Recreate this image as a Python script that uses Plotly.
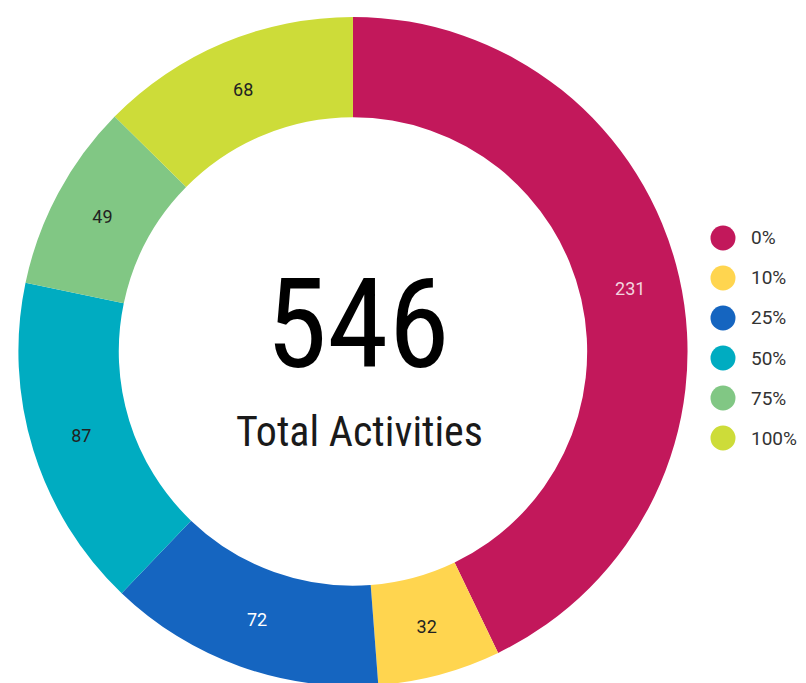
import plotly.graph_objects as go

# --- DATA ---
labels = ["0%", "10%", "25%", "50%", "75%", "100%"]
values = [231, 32, 72, 87, 49, 68]
colors = ["#C2185B", "#FFD54F", "#1565C0", "#00ACC1", "#81C784", "#CDDC39"]
text_colors = ["#F3D3DF", "#222222", "#FFFFFF", "#222222", "#222222", "#222222"]
total_label = "546"
sub_label = "Total Activities"

W, H = 806, 683
COND = "Roboto Condensed, Liberation Sans Narrow, DejaVu Sans Condensed, Roboto"
REG = "Roboto, Noto Sans, sans-serif"


def main():
    fig = go.Figure()

    fig.add_trace(go.Pie(
        labels=labels,
        values=values,
        hole=0.70,
        sort=False,
        direction="clockwise",
        rotation=0,
        marker=dict(colors=colors, line=dict(width=0)),
        textinfo="value",
        textposition="inside",
        insidetextorientation="horizontal",
        textfont=dict(size=18, color=text_colors, family=REG),
        domain=dict(x=[0.010, 0.846], y=[0.0073, 0.987]),
        showlegend=False,
    ))

    # centre text
    fig.add_annotation(text=total_label, x=350 / W, y=1 - 316 / H, xref="paper", yref="paper",
                       showarrow=False, font=dict(size=124, color="#000000", family=COND))
    fig.add_annotation(text=sub_label, x=351 / W, y=1 - 423 / H, xref="paper", yref="paper",
                       showarrow=False, font=dict(size=42, color="#1a1a1a", family=COND))

    # legend with round markers
    for i, (lab, col) in enumerate(zip(labels, colors)):
        yc = 230 + 40 * i
        fig.add_shape(type="circle", xref="paper", yref="paper",
                      x0=(715 - 12.5) / W, x1=(715 + 12.5) / W,
                      y0=1 - (yc + 12.5) / H, y1=1 - (yc - 12.5) / H,
                      fillcolor=col, line=dict(width=0))
        fig.add_annotation(text=lab, x=741 / W, y=1 - yc / H, xref="paper", yref="paper",
                           xanchor="left", showarrow=False,
                           font=dict(size=19, color="#333333", family=REG))

    fig.update_layout(
        width=W, height=H,
        margin=dict(l=0, r=0, t=0, b=0),
        paper_bgcolor="white",
        plot_bgcolor="white",
        font=dict(family=REG),
    )
    fig.write_html("out.html")


if __name__ == "__main__":
    main()
